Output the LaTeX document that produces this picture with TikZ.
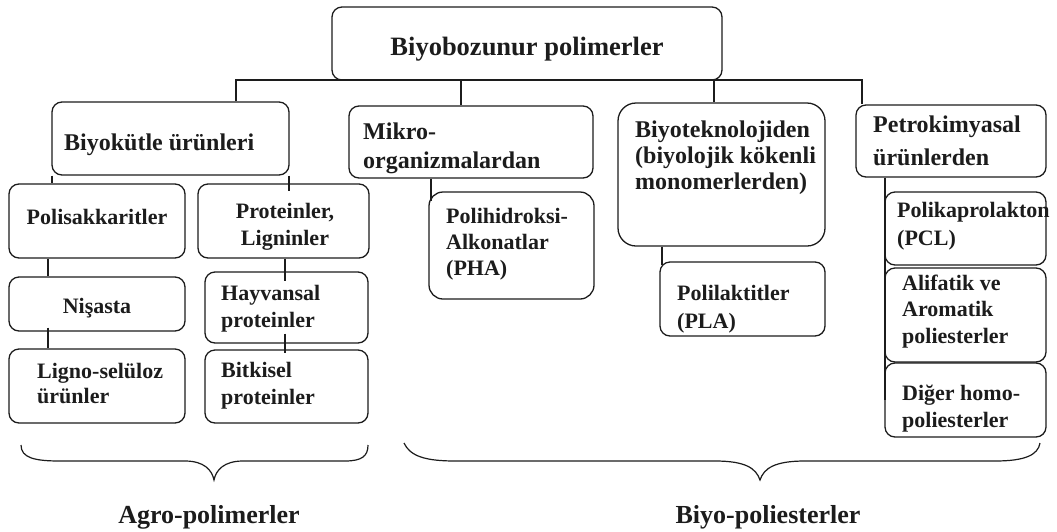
\documentclass[tikz,border=0pt]{standalone}
\usepackage{fontspec}
\setmainfont{Liberation Serif}
\usetikzlibrary{fit}
\definecolor{ink}{HTML}{1C1C1C}
\begin{document}
\begin{tikzpicture}[x=1pt,y=-1pt,
  box/.style={draw=ink, line width=1.3pt, rounded corners=10pt, inner sep=0pt},
  link/.style={draw=ink, line width=1.3pt},
  brace/.style={draw=ink, line width=1.2pt},
  small/.style={font=\bfseries\fontsize{22}{26.5}\selectfont, text=ink, inner sep=0pt, align=left, anchor=base west},
  mid/.style={font=\bfseries\fontsize{24}{26}\selectfont, text=ink, inner sep=0pt, align=left, anchor=base west},
  big/.style={font=\bfseries\fontsize{26.5}{30}\selectfont, text=ink, inner sep=0pt, anchor=base}]
\useasboundingbox (0,0) rectangle (1057,531);

% boxes
\node[box, fit={(332,7) (722,80)}] (top) {};
\node[box, fit={(52,102) (289,175)}] (bio) {};
\node[box, fit={(349,106) (593,178)}] (mikro) {};
\node[box, rounded corners=18pt, fit={(618,103) (825,246)}] (biyotek) {};
\node[box, fit={(856,105) (1046,177)}] (petro) {};
\node[box, fit={(9,184) (185,258)}] (polisak) {};
\node[box, fit={(198,184) (369,258)}] (protein) {};
\node[box, fit={(9,277) (185,331)}] (nisasta) {};
\node[box, fit={(9,349) (185,423)}] (ligno) {};
\node[box, fit={(205,272) (368,343)}] (hayvan) {};
\node[box, fit={(205,350) (368,423)}] (bitki) {};
\node[box, rounded corners=14pt, fit={(429,192) (594,299)}] (pha) {};
\node[box, fit={(660,262) (825,336)}] (pla) {};
\node[box, fit={(885,192) (1046,265)}] (pcl) {};
\node[box, fit={(885,268) (1046,362)}] (alifatik) {};
\node[box, fit={(885,363) (1046,437)}] (diger) {};

% texts (multi-line texts are placed by the baseline of their last line)
\node[big] (ttop) at (527,55) {Biyobozunur polimerler};
\node[mid] (tbio) at (64,150) {Biyokütle ürünleri};
\node[mid, font=\bfseries\fontsize{24}{29}\selectfont] (tmikro) at (363,168) {Mikro-\\organizmalardan};
\node[mid] (tbiyotek) at (635,189) {Biyoteknolojiden\\(biyolojik kökenli\\monomerlerden)};
\node[mid, font=\bfseries\fontsize{24}{33}\selectfont] (tpetro) at (873,165) {Petrokimyasal\\ürünlerden};
\node[small, anchor=base] (tpolisak) at (97,224) {Polisakkaritler};
\node[small, align=center, anchor=base, font=\bfseries\fontsize{22}{27}\selectfont] (tprotein) at (285,245) {Proteinler,\\Ligninler};
\node[small, anchor=base] (tnisasta) at (97,313) {Nişasta};
\node[small, font=\bfseries\fontsize{22}{25}\selectfont] (tligno) at (37,403) {Ligno-selüloz\\ürünler};
\node[small, font=\bfseries\fontsize{22}{27}\selectfont] (thayvan) at (221,327) {Hayvansal\\proteinler};
\node[small, font=\bfseries\fontsize{22}{27}\selectfont] (tbitki) at (221,404) {Bitkisel\\proteinler};
\node[small, font=\bfseries\fontsize{22}{26}\selectfont] (tpha) at (446,275) {Polihidroksi-\\Alkonatlar\\(PHA)};
\node[small, font=\bfseries\fontsize{22}{28}\selectfont] (tpla) at (677,328) {Polilaktitler\\(PLA)};
\node[small, font=\bfseries\fontsize{22}{28}\selectfont] (tpcl) at (897,245) {Polikaprolakton\\(PCL)};
\node[small] (talifatik) at (902,343) {Alifatik ve\\Aromatik\\poliesterler};
\node[small, font=\bfseries\fontsize{22}{27}\selectfont] (tdiger) at (902,427) {Diğer homo-\\poliesterler};
\node[big, font=\bfseries\fontsize{26}{30}\selectfont] (agro) at (209,523) {Agro-polimerler};
\node[big, font=\bfseries\fontsize{26}{30}\selectfont] (biyopol) at (768,523) {Biyo-poliesterler};

% columns of the connectors
\coordinate (c236) at (236,80);
\coordinate (c461) at (461,80);
\coordinate (c714) at (714,80);
\coordinate (c862) at (862,80);
\coordinate (c52) at (52,0);
\coordinate (c289) at (289,0);
\coordinate (c48) at (48,0);
\coordinate (c285) at (285,0);
\coordinate (c431) at (431,0);
\coordinate (c662) at (662,0);
\coordinate (c885) at (885,0);

% tree connectors
\draw[link] (c236 |- bio.north) -- (c236) -- (c862) -- (c862 |- petro.north);
\draw[link] (c461) -- (c461 |- mikro.north);
\draw[link] (c714) -- (c714 |- biyotek.north);
\draw[link] (c52 |- bio.south) -- (c52 |- polisak.north);
\draw[link] (c289 |- bio.south) -- ([yshift=-8pt]c289 |- protein.north);
\draw[link] (c48 |- polisak.south) -- (c48 |- nisasta.north);
\draw[link] ([yshift=4pt]c48 |- nisasta.south) -- (c48 |- ligno.north);
\draw[link] (c285 |- protein.south) -- ([yshift=-10pt]c285 |- hayvan.north);
\draw[link] ([yshift=10pt]c285 |- hayvan.south) -- ([yshift=-4pt]c285 |- bitki.north);
\draw[link] (c431 |- mikro.south) -- ([yshift=-10pt]c431 |- pha.north);
\draw[link] (c662 |- biyotek.south) -- ([yshift=-4pt]c662 |- pla.north);
\draw[link] (c885 |- petro.south) -- (c885 |- diger.center);

% braces under the two groups
\draw[brace] (21,445) .. controls (21,458) and (35,461) .. (60,461) -- (185,461)
  .. controls (204,461) and (212,470) .. (214,480)
  .. controls (216,470) and (224,461) .. (243,461) -- (345,461)
  .. controls (362,461) and (368,456) .. (368,445);
\draw[brace] (404,443) .. controls (410,456) and (425,461) .. (455,461) -- (715,461)
  .. controls (745,461) and (756,468) .. (760,480)
  .. controls (764,468) and (775,461) .. (805,461) -- (995,461)
  .. controls (1025,461) and (1038,455) .. (1040,443);
\end{tikzpicture}
\end{document}
